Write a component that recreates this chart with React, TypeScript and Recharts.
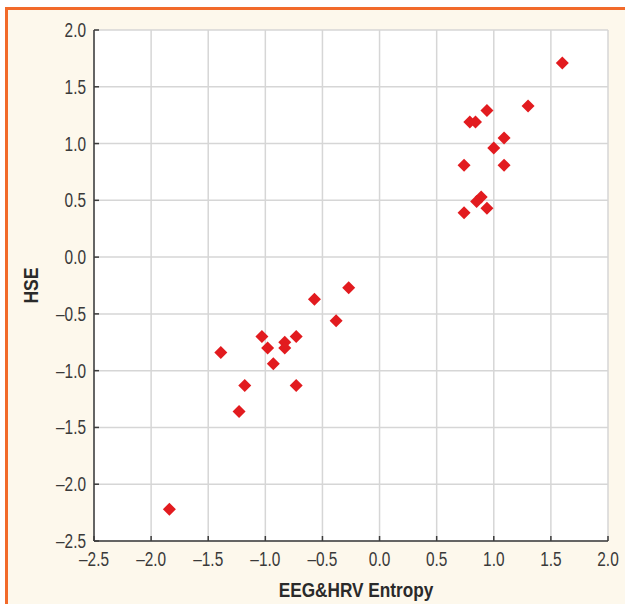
import { ScatterChart, Scatter, XAxis, YAxis, CartesianGrid, Label } from 'recharts';

// Scatter of HSE against combined EEG&HRV entropy
const entropyValues = [
  1.6, 1.3, 0.94, 0.79, 0.84, 1.09, 1.0, 0.74, 1.09, 0.89, 0.85, 0.94, 0.74,
  -0.27, -0.57, -0.38, -1.03, -0.73, -0.83, -0.83, -0.98, -1.39, -0.93, -1.18, -0.73, -1.23, -1.84,
];
const hseValues = [
  1.71, 1.33, 1.29, 1.19, 1.19, 1.05, 0.96, 0.81, 0.81, 0.53, 0.49, 0.43, 0.39,
  -0.27, -0.37, -0.56, -0.7, -0.7, -0.75, -0.8, -0.8, -0.84, -0.94, -1.13, -1.13, -1.36, -2.22,
];
const xTicks = [-2.5, -2, -1.5, -1, -0.5, 0, 0.5, 1, 1.5, 2];
const yTicks = [-2.5, -2, -1.5, -1, -0.5, 0, 0.5, 1, 1.5, 2];

const points = entropyValues.map((x, i) => ({ x, y: hseValues[i] }));

// no Arial Narrow here, so squeeze Liberation Sans horizontally
const FONT = "'Liberation Sans', Arial, sans-serif";
const FRAME = '#3c3c3c';
const LABEL = '#3a3a3a';
const TICK_IN = 5;
const fmt = (v: number) => v.toFixed(1).replace('-', '\u2013');

const Narrow = ({ x, y, anchor, size, bold, sx, fill, children }: any) => (
  <text
    transform={`translate(${x},${y}) scale(${sx},1)`}
    textAnchor={anchor}
    fontSize={size}
    fontWeight={bold ? 'bold' : 'normal'}
    fontFamily={FONT}
    fill={fill}
  >
    {children}
  </text>
);

const BottomTick = (p: any) => {
  const y0 = p.y - 11;
  return (
    <g>
      <line x1={p.x} x2={p.x} y1={y0} y2={y0 - TICK_IN} stroke={FRAME} strokeWidth={1.5} />
      <Narrow x={p.x} y={p.y + 13.5} anchor="middle" size={19.5} sx={0.79} fill={LABEL}>
        {fmt(p.payload.value)}
      </Narrow>
    </g>
  );
};

const LeftTick = (p: any) => {
  const x0 = p.x + 8;
  return (
    <g>
      <line x1={x0} x2={x0 + TICK_IN} y1={p.y} y2={p.y} stroke={FRAME} strokeWidth={1.5} />
      <Narrow x={p.x} y={p.y + 7} anchor="end" size={19.5} sx={0.79} fill={LABEL}>
        {fmt(p.payload.value)}
      </Narrow>
    </g>
  );
};

const TopTick = (p: any) => (
  <line x1={p.x} x2={p.x} y1={p.y} y2={p.y + TICK_IN} stroke={FRAME} strokeWidth={1.5} />
);

const RightTick = (p: any) => (
  <line x1={p.x} x2={p.x - TICK_IN} y1={p.y} y2={p.y} stroke={FRAME} strokeWidth={1.5} />
);

const Diamond = (p: any) => {
  const r = 6.5;
  const { cx, cy } = p;
  return <polygon points={`${cx},${cy - r} ${cx + r},${cy} ${cx},${cy + r} ${cx - r},${cy}`} fill="#e21b1f" />;
};

const XTitle = (p: any) => {
  const vb = p.viewBox;
  return (
    <Narrow x={vb.x + vb.width / 2 + 5} y={vb.y + vb.height - 7} anchor="middle" size={20.5} bold sx={0.84} fill="#2a2a2a">
      EEG&amp;HRV Entropy
    </Narrow>
  );
};

const YTitle = (p: any) => {
  const vb = p.viewBox;
  const cy = vb.y + vb.height / 2;
  return (
    <text
      transform={`translate(37.5, ${cy}) rotate(-90) scale(0.86,1)`}
      textAnchor="middle"
      fontSize={20.5}
      fontWeight="bold"
      fontFamily={FONT}
      fill="#2a2a2a"
    >
      HSE
    </text>
  );
};

export default function App() {
  return (
    <div style={{ position: 'absolute', left: 0, top: 0, width: 625, height: 604, background: '#fff' }}>
      <div
        style={{
          position: 'absolute',
          left: 5,
          top: 7,
          width: 617,
          height: 594,
          background: '#fdf8ec',
          borderLeft: '3px solid #f26a2a',
          borderTop: '3px solid #f26a2a',
        }}
      />
      <div style={{ position: 'absolute', left: 0, top: 0 }}>
        <ScatterChart width={625} height={604} margin={{ top: 30, right: 17, left: 0, bottom: 0 }}>
          <CartesianGrid stroke="#d6d6d6" strokeWidth={1.5} fill="#fff" fillOpacity={1} />
          <XAxis
            type="number"
            dataKey="x"
            domain={[-2.5, 2]}
            ticks={xTicks}
            height={63}
            tickSize={0}
            tickMargin={11}
            tickLine={false}
            axisLine={{ stroke: FRAME, strokeWidth: 1.5 }}
            tick={<BottomTick />}
            interval={0}
          >
            <Label content={<XTitle />} />
          </XAxis>
          <XAxis
            xAxisId="top"
            orientation="top"
            type="number"
            dataKey="x"
            domain={[-2.5, 2]}
            ticks={xTicks}
            height={0}
            tickSize={0}
            tickMargin={0}
            tickLine={false}
            axisLine={{ stroke: FRAME, strokeWidth: 1.5 }}
            tick={<TopTick />}
            interval={0}
          />
          <YAxis
            type="number"
            dataKey="y"
            domain={[-2.5, 2]}
            ticks={yTicks}
            width={94}
            tickSize={0}
            tickMargin={8}
            tickLine={false}
            axisLine={{ stroke: FRAME, strokeWidth: 1.5 }}
            tick={<LeftTick />}
            interval={0}
          >
            <Label content={<YTitle />} />
          </YAxis>
          <YAxis
            yAxisId="right"
            orientation="right"
            type="number"
            dataKey="y"
            domain={[-2.5, 2]}
            ticks={yTicks}
            width={0}
            tickSize={0}
            tickMargin={0}
            tickLine={false}
            axisLine={{ stroke: FRAME, strokeWidth: 1.5 }}
            tick={<RightTick />}
            interval={0}
          />
          <Scatter data={points} shape={<Diamond />} isAnimationActive={false} />
        </ScatterChart>
      </div>
    </div>
  );
}
